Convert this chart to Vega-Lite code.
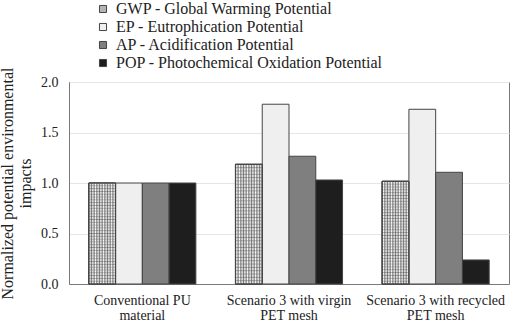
{
  "$schema": "https://vega.github.io/schema/vega-lite/v6.json",
  "autosize": {"type": "none"},
  "width": 440,
  "height": 202,
  "padding": {"left": 69, "top": 82, "right": 1, "bottom": 39},
  "background": "white",
  "config": {
    "view": {"stroke": "#7a7a7a", "strokeWidth": 1},
    "font": "Liberation Serif, Times New Roman, serif"
  },
  "data": {
    "values": [
      {"scenario": "Conventional PU material", "impact": "GWP - Global Warming Potential", "value": 1.0},
      {"scenario": "Conventional PU material", "impact": "EP - Eutrophication Potential", "value": 1.0},
      {"scenario": "Conventional PU material", "impact": "AP - Acidification Potential", "value": 1.0},
      {"scenario": "Conventional PU material", "impact": "POP - Photochemical Oxidation Potential", "value": 1.0},
      {"scenario": "Scenario 3 with virgin PET mesh", "impact": "GWP - Global Warming Potential", "value": 1.185},
      {"scenario": "Scenario 3 with virgin PET mesh", "impact": "EP - Eutrophication Potential", "value": 1.78},
      {"scenario": "Scenario 3 with virgin PET mesh", "impact": "AP - Acidification Potential", "value": 1.265},
      {"scenario": "Scenario 3 with virgin PET mesh", "impact": "POP - Photochemical Oxidation Potential", "value": 1.03},
      {"scenario": "Scenario 3 with recycled PET mesh", "impact": "GWP - Global Warming Potential", "value": 1.017},
      {"scenario": "Scenario 3 with recycled PET mesh", "impact": "EP - Eutrophication Potential", "value": 1.73},
      {"scenario": "Scenario 3 with recycled PET mesh", "impact": "AP - Acidification Potential", "value": 1.106},
      {"scenario": "Scenario 3 with recycled PET mesh", "impact": "POP - Photochemical Oxidation Potential", "value": 0.238}
    ]
  },
  "encoding": {
    "x": {
      "field": "scenario", "type": "nominal", "sort": null,
      "scale": {"paddingInner": 0.27, "paddingOuter": 0.135},
      "axis": {
        "title": null, "labelAngle": 0, "ticks": false, "labelPadding": 9,
        "labelFont": "Liberation Serif, Times New Roman, serif", "labelColor": "#222222",
        "labelFontSize": 14, "labelLineHeight": 15.5, "domainColor": "#7a7a7a",
        "labelExpr": "datum.value == 'Conventional PU material' ? ['Conventional PU', 'material'] : datum.value == 'Scenario 3 with virgin PET mesh' ? ['Scenario 3 with virgin', 'PET mesh'] : ['Scenario 3 with recycled', 'PET mesh']"
      }
    },
    "xOffset": {
      "field": "impact", "type": "nominal",
      "scale": {"domain": ["GWP - Global Warming Potential", "EP - Eutrophication Potential", "AP - Acidification Potential", "POP - Photochemical Oxidation Potential"], "paddingInner": 0, "paddingOuter": 0}
    },
    "y": {
      "field": "value", "type": "quantitative",
      "scale": {"domain": [0, 2], "nice": false},
      "axis": {
        "values": [0, 0.5, 1, 1.5, 2], "format": ".1f", "ticks": false,
        "labelFont": "Liberation Serif, Times New Roman, serif", "labelColor": "#222222",
        "labelPadding": 11, "labelFontSize": 14, "gridColor": "#e6e6e6",
        "domainColor": "#7a7a7a",
        "title": ["Normalized potential environmental", "impacts"],
        "titleFont": "Liberation Serif, Times New Roman, serif", "titleColor": "#222222",
        "titleFontSize": 16, "titleFontWeight": "normal", "titlePadding": 7, "titleLineHeight": 18
      }
    }
  },
  "layer": [
    {
      "mark": {"type": "bar", "stroke": "#444444", "strokeWidth": 1},
      "encoding": {
        "fill": {
          "field": "impact", "type": "nominal",
          "scale": {
            "domain": ["GWP - Global Warming Potential", "EP - Eutrophication Potential", "AP - Acidification Potential", "POP - Photochemical Oxidation Potential"],
            "range": ["#b4b4b4", "#efefef", "#7f7f7f", "#1e1e1e"]
          },
          "legend": {
            "title": null, "orient": "none", "legendX": 26, "legendY": -81, "direction": "vertical",
            "symbolType": "square", "symbolSize": 50, "symbolStrokeColor": "#444444", "symbolStrokeWidth": 1,
            "labelFont": "Liberation Serif, Times New Roman, serif",
            "labelFontSize": 16, "labelColor": "#222222", "labelOffset": 5, "rowPadding": 2,
            "labelLimit": 400
          }
        }
      }
    },
    {
      "transform": [{"filter": "datum.impact == 'GWP - Global Warming Potential'"}],
      "mark": {
        "type": "bar", "stroke": "#444444", "strokeWidth": 1,
        "fill": {
          "gradient": "linear", "x1": 0, "x2": 1, "y1": 0, "y2": 0,
          "stops": [
            {"offset": 0, "color": "#777777"}, {"offset": 0.05, "color": "#ffffff"},
            {"offset": 0.1, "color": "#777777"}, {"offset": 0.15, "color": "#ffffff"},
            {"offset": 0.2, "color": "#777777"}, {"offset": 0.25, "color": "#ffffff"},
            {"offset": 0.3, "color": "#777777"}, {"offset": 0.35, "color": "#ffffff"},
            {"offset": 0.4, "color": "#777777"}, {"offset": 0.45, "color": "#ffffff"},
            {"offset": 0.5, "color": "#777777"}, {"offset": 0.55, "color": "#ffffff"},
            {"offset": 0.6, "color": "#777777"}, {"offset": 0.65, "color": "#ffffff"},
            {"offset": 0.7, "color": "#777777"}, {"offset": 0.75, "color": "#ffffff"},
            {"offset": 0.8, "color": "#777777"}, {"offset": 0.85, "color": "#ffffff"},
            {"offset": 0.9, "color": "#777777"}, {"offset": 0.95, "color": "#ffffff"},
            {"offset": 1, "color": "#777777"}
          ]
        }
      },
      "encoding": {}
    },
    {
      "transform": [{"filter": "datum.impact == 'GWP - Global Warming Potential'"}],
      "mark": {
        "type": "bar", "stroke": "#444444", "strokeWidth": 1,
        "fill": {
          "gradient": "linear", "x1": 0, "x2": 0, "y1": 0, "y2": 1,
          "stops": [
            {"offset": 0, "color": "rgba(70,70,70,0.45)"}, {"offset": 0.0139, "color": "rgba(255,255,255,0)"},
            {"offset": 0.0278, "color": "rgba(70,70,70,0.45)"}, {"offset": 0.0417, "color": "rgba(255,255,255,0)"},
            {"offset": 0.0556, "color": "rgba(70,70,70,0.45)"}, {"offset": 0.0694, "color": "rgba(255,255,255,0)"},
            {"offset": 0.0833, "color": "rgba(70,70,70,0.45)"}, {"offset": 0.0972, "color": "rgba(255,255,255,0)"},
            {"offset": 0.1111, "color": "rgba(70,70,70,0.45)"}, {"offset": 0.125, "color": "rgba(255,255,255,0)"},
            {"offset": 0.1389, "color": "rgba(70,70,70,0.45)"}, {"offset": 0.1528, "color": "rgba(255,255,255,0)"},
            {"offset": 0.1667, "color": "rgba(70,70,70,0.45)"}, {"offset": 0.1806, "color": "rgba(255,255,255,0)"},
            {"offset": 0.1944, "color": "rgba(70,70,70,0.45)"}, {"offset": 0.2083, "color": "rgba(255,255,255,0)"},
            {"offset": 0.2222, "color": "rgba(70,70,70,0.45)"}, {"offset": 0.2361, "color": "rgba(255,255,255,0)"},
            {"offset": 0.25, "color": "rgba(70,70,70,0.45)"}, {"offset": 0.2639, "color": "rgba(255,255,255,0)"},
            {"offset": 0.2778, "color": "rgba(70,70,70,0.45)"}, {"offset": 0.2917, "color": "rgba(255,255,255,0)"},
            {"offset": 0.3056, "color": "rgba(70,70,70,0.45)"}, {"offset": 0.3194, "color": "rgba(255,255,255,0)"},
            {"offset": 0.3333, "color": "rgba(70,70,70,0.45)"}, {"offset": 0.3472, "color": "rgba(255,255,255,0)"},
            {"offset": 0.3611, "color": "rgba(70,70,70,0.45)"}, {"offset": 0.375, "color": "rgba(255,255,255,0)"},
            {"offset": 0.3889, "color": "rgba(70,70,70,0.45)"}, {"offset": 0.4028, "color": "rgba(255,255,255,0)"},
            {"offset": 0.4167, "color": "rgba(70,70,70,0.45)"}, {"offset": 0.4306, "color": "rgba(255,255,255,0)"},
            {"offset": 0.4444, "color": "rgba(70,70,70,0.45)"}, {"offset": 0.4583, "color": "rgba(255,255,255,0)"},
            {"offset": 0.4722, "color": "rgba(70,70,70,0.45)"}, {"offset": 0.4861, "color": "rgba(255,255,255,0)"},
            {"offset": 0.5, "color": "rgba(70,70,70,0.45)"}, {"offset": 0.5139, "color": "rgba(255,255,255,0)"},
            {"offset": 0.5278, "color": "rgba(70,70,70,0.45)"}, {"offset": 0.5417, "color": "rgba(255,255,255,0)"},
            {"offset": 0.5556, "color": "rgba(70,70,70,0.45)"}, {"offset": 0.5694, "color": "rgba(255,255,255,0)"},
            {"offset": 0.5833, "color": "rgba(70,70,70,0.45)"}, {"offset": 0.5972, "color": "rgba(255,255,255,0)"},
            {"offset": 0.6111, "color": "rgba(70,70,70,0.45)"}, {"offset": 0.625, "color": "rgba(255,255,255,0)"},
            {"offset": 0.6389, "color": "rgba(70,70,70,0.45)"}, {"offset": 0.6528, "color": "rgba(255,255,255,0)"},
            {"offset": 0.6667, "color": "rgba(70,70,70,0.45)"}, {"offset": 0.6806, "color": "rgba(255,255,255,0)"},
            {"offset": 0.6944, "color": "rgba(70,70,70,0.45)"}, {"offset": 0.7083, "color": "rgba(255,255,255,0)"},
            {"offset": 0.7222, "color": "rgba(70,70,70,0.45)"}, {"offset": 0.7361, "color": "rgba(255,255,255,0)"},
            {"offset": 0.75, "color": "rgba(70,70,70,0.45)"}, {"offset": 0.7639, "color": "rgba(255,255,255,0)"},
            {"offset": 0.7778, "color": "rgba(70,70,70,0.45)"}, {"offset": 0.7917, "color": "rgba(255,255,255,0)"},
            {"offset": 0.8056, "color": "rgba(70,70,70,0.45)"}, {"offset": 0.8194, "color": "rgba(255,255,255,0)"},
            {"offset": 0.8333, "color": "rgba(70,70,70,0.45)"}, {"offset": 0.8472, "color": "rgba(255,255,255,0)"},
            {"offset": 0.8611, "color": "rgba(70,70,70,0.45)"}, {"offset": 0.875, "color": "rgba(255,255,255,0)"},
            {"offset": 0.8889, "color": "rgba(70,70,70,0.45)"}, {"offset": 0.9028, "color": "rgba(255,255,255,0)"},
            {"offset": 0.9167, "color": "rgba(70,70,70,0.45)"}, {"offset": 0.9306, "color": "rgba(255,255,255,0)"},
            {"offset": 0.9444, "color": "rgba(70,70,70,0.45)"}, {"offset": 0.9583, "color": "rgba(255,255,255,0)"},
            {"offset": 0.9722, "color": "rgba(70,70,70,0.45)"}, {"offset": 0.9861, "color": "rgba(255,255,255,0)"},
            {"offset": 1, "color": "rgba(70,70,70,0.45)"}
          ]
        }
      },
      "encoding": {}
    }
  ]
}
